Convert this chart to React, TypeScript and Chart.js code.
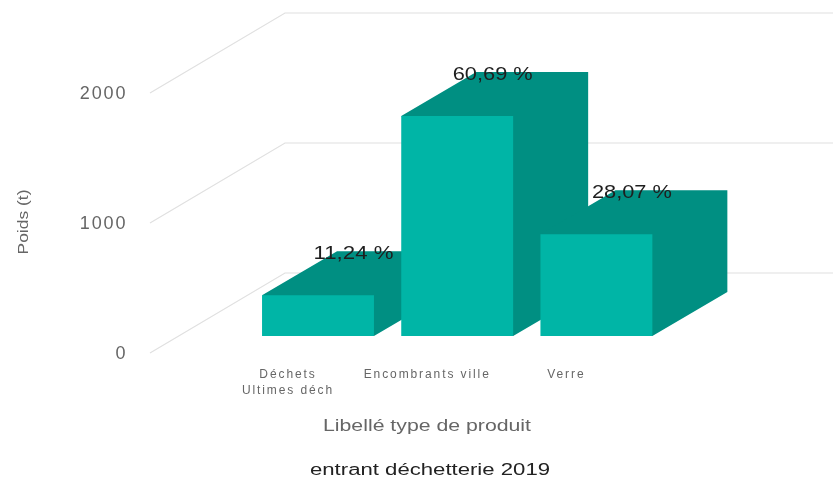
import React, { useEffect, useRef } from "react";
import { Chart, registerables } from "chart.js";

Chart.register(...registerables);

const categories = [["Déchets", "Ultimes déch"], "Encombrants ville", "Verre"];
const weights = [313, 1692, 783];
const percentLabels = ["11,24 %", "60,69 %", "28,07 %"];
const yTicks = [0, 1000, 2000];
const yTitle = "Poids (t)";
const xTitle = "Libellé type de produit";
const chartTitle = "entrant déchetterie 2019";

const FRONT = "#00b5a6";
const SHADE = "#008f82";
const GRID = "#e0e0e0";
const DX = 75;
const DY = -44;
const FONT = '"Liberation Sans", Arial, sans-serif';

// The reference text is stretched sideways: fit each string to its measured width.
function stretched(ctx: any, text: string, x: number, y: number, width: number) {
  ctx.save();
  ctx.translate(x, y);
  ctx.scale(width / ctx.measureText(text).width, 1);
  ctx.fillText(text, 0, 0);
  ctx.restore();
}

const threeD = {
  id: "threeD",
  beforeDraw(chart: any) {
    chart.ctx.letterSpacing = "1.9px";
  },
  beforeDatasetsDraw(chart: any) {
    const { ctx, scales } = chart;
    ctx.save();
    ctx.strokeStyle = GRID;
    ctx.lineWidth = 1.2;
    yTicks.forEach((v) => {
      const y = scales.y.getPixelForValue(v) + 17;
      ctx.beginPath();
      ctx.moveTo(150, y);
      ctx.lineTo(285, y - 80);
      ctx.lineTo(833, y - 80);
      ctx.stroke();
    });
    const bars = chart.getDatasetMeta(0).data;
    ctx.fillStyle = SHADE;
    bars.forEach((b: any) => {
      const l = b.x - b.width / 2;
      const r = b.x + b.width / 2;
      const t = b.y;
      const bo = b.base;
      ctx.beginPath();
      ctx.moveTo(l + 1, t + 1);
      ctx.lineTo(l, t);
      ctx.lineTo(l + DX, t + DY);
      ctx.lineTo(r + DX, t + DY);
      ctx.lineTo(r + DX, bo + DY);
      ctx.lineTo(r, bo);
      ctx.lineTo(r - 1, bo);
      ctx.lineTo(r - 1, t + 1);
      ctx.closePath();
      ctx.fill();
    });
    ctx.restore();
  },
  afterDraw(chart: any) {
    const { ctx } = chart;
    const bars = chart.getDatasetMeta(0).data;
    ctx.save();
    ctx.letterSpacing = "0px";
    ctx.textAlign = "center";
    ctx.textBaseline = "middle";

    ctx.fillStyle = "#1e1e1e";
    ctx.font = `17.5px ${FONT}`;
    bars.forEach((b: any, i: number) => {
      stretched(ctx, percentLabels[i], b.x + 35.5, b.y + DY + 3, 80);
    });

    ctx.fillStyle = "#666666";
    ctx.font = `16px ${FONT}`;
    stretched(ctx, xTitle, 427, 427, 208);

    ctx.fillStyle = "#222222";
    ctx.font = `16px ${FONT}`;
    stretched(ctx, chartTitle, 430, 471, 240);

    ctx.fillStyle = "#666666";
    ctx.font = `14px ${FONT}`;
    ctx.translate(24, 222);
    ctx.rotate(-Math.PI / 2);
    stretched(ctx, yTitle, 0, 0, 65);
    ctx.restore();
  },
};

export default function App() {
  const ref = useRef<HTMLCanvasElement>(null);
  useEffect(() => {
    document.body.style.margin = "0";
    document.body.style.background = "#ffffff";
    const chart = new Chart(ref.current!, {
      type: "bar",
      data: {
        labels: categories as any,
        datasets: [
          {
            data: weights,
            backgroundColor: FRONT,
            borderWidth: 0,
            categoryPercentage: 1,
            barPercentage: 0.804,
          },
        ],
      },
      options: {
        responsive: false,
        animation: false,
        layout: { padding: { left: 0, right: 167, top: 76, bottom: 0 } },
        plugins: { legend: { display: false }, tooltip: { enabled: false } },
        scales: {
          x: {
            grid: { display: false, drawTicks: false },
            border: { display: false },
            afterFit(s: any) {
              s.height = 142;
            },
            ticks: {
              color: "#666666",
              font: { family: FONT, size: 12, lineHeight: 1.33 },
              padding: 30.5,
              labelOffset: -30,
              maxRotation: 0,
              minRotation: 0,
              autoSkip: false,
            },
          },
          y: {
            min: 0,
            max: 2000,
            grid: { display: false, drawTicks: false },
            border: { display: false },
            afterFit(s: any) {
              s.width = 248.4;
              s.paddingTop = 0;
              s.paddingBottom = 0;
            },
            ticks: {
              color: "#666666",
              font: { family: FONT, size: 18 },
              padding: 121,
              labelOffset: 18,
              stepSize: 1000,
              callback: (v: any) => String(v),
            },
          },
        },
      },
      plugins: [threeD],
    } as any);
    return () => chart.destroy();
  }, []);
  return <canvas ref={ref} width={833} height={478} style={{ display: "block" }} />;
}
